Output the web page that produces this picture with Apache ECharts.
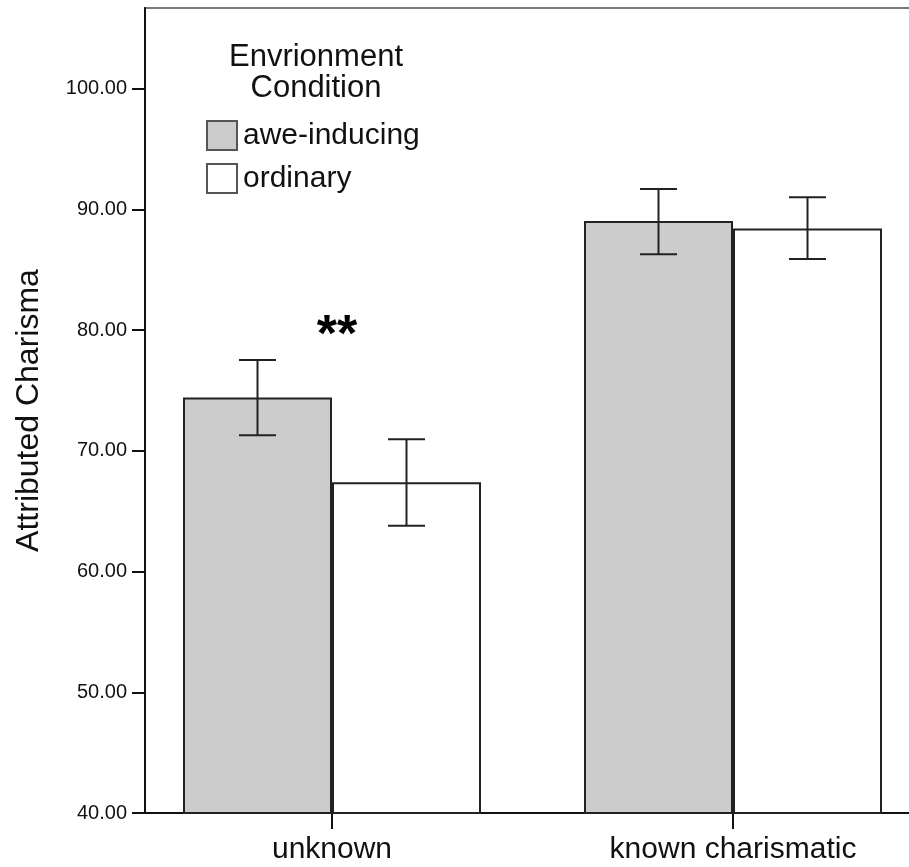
<!DOCTYPE html>
<html>
<head>
<meta charset="utf-8">
<script src="https://cdn.jsdelivr.net/npm/echarts@6/dist/echarts.min.js"></script>
<style>
html,body{margin:0;padding:0;background:#fff;}
#chart{width:909px;height:867px;}
</style>
</head>
<body>
<div id="chart"></div>
<script>
// ---- data ----
const categories = ['unknown', 'known charismatic'];
const seriesNames = ['awe-inducing', 'ordinary'];
const aweMeans = [74.42, 89.06];
const ordinaryMeans = [67.40, 88.42];
const aweErrLow = [71.30, 86.30];
const aweErrHigh = [77.54, 91.71];
const ordinaryErrLow = [63.81, 85.91];
const ordinaryErrHigh = [70.97, 91.02];
const yTicks = [40, 50, 60, 70, 80, 90, 100];
const legendTitle = 'Envrionment\nCondition';
const yTitle = 'Attributed Charisma';
const sigMarks = [{ category: 'unknown', value: 79.5, text: '**' }];

// ---- styling constants ----
const FONT = 'Liberation Sans, Arial, sans-serif';
const BAR_W = 149;
const CAP_W = 37;
const Y_MIN = 40, Y_MAX = 106.7;

function errData(lows, highs) {
  return categories.map((c, i) => [i, lows[i], highs[i]]);
}
function errRender(offset) {
  return function (params, api) {
    const idx = api.value(0);
    const lo = api.coord([idx, api.value(1)]);
    const hi = api.coord([idx, api.value(2)]);
    const x = lo[0] + offset;
    const st = { stroke: '#222', lineWidth: 2 };
    return {
      type: 'group',
      children: [
        { type: 'line', shape: { x1: x, y1: lo[1], x2: x, y2: hi[1] }, style: st },
        { type: 'line', shape: { x1: x - CAP_W / 2, y1: lo[1], x2: x + CAP_W / 2, y2: lo[1] }, style: st },
        { type: 'line', shape: { x1: x - CAP_W / 2, y1: hi[1], x2: x + CAP_W / 2, y2: hi[1] }, style: st }
      ]
    };
  };
}
// significance marker drawn at the category centre
function sigRender(params, api) {
  const p = api.coord([api.value(0), api.value(1)]);
  return {
    type: 'text',
    x: p[0] + 5, y: p[1],
    style: {
      text: sigMarks[params.dataIndex].text,
      fontFamily: FONT, fontSize: 52, fontWeight: 'bold', fill: '#000',
      align: 'center', verticalAlign: 'middle'
    }
  };
}

const chart = echarts.init(document.getElementById('chart'), null, { renderer: 'canvas' });
chart.setOption({
  animation: false,
  backgroundColor: '#fff',
  textStyle: { fontFamily: FONT },
  title: {
    text: legendTitle,
    left: 311,
    top: 37,
    textAlign: 'center',
    textStyle: { fontFamily: FONT, fontSize: 31, fontWeight: 'normal', color: '#111', lineHeight: 31, align: 'center' }
  },
  legend: {
    data: seriesNames,
    orient: 'vertical',
    left: 201,
    top: 115,
    itemWidth: 30,
    itemHeight: 29,
    itemGap: 12,
    icon: 'rect',
    textStyle: { fontFamily: FONT, fontSize: 30, color: '#111', padding: [0, 0, 0, 1] },
    itemStyle: { borderColor: '#555', borderWidth: 2 }
  },
  grid: [
    { left: 145, width: 800, top: 8, bottom: 54, show: true, borderColor: '#7a7a7a', borderWidth: 2, backgroundColor: 'transparent', outerBoundsMode: 'none', containLabel: false },
    { left: 131.5, width: 802, top: 8, bottom: 54, show: false, outerBoundsMode: 'none', containLabel: false }
  ],
  xAxis: [
    {
      gridIndex: 0, type: 'value', min: 0, max: 1,
      axisLine: { show: true, onZero: false, lineStyle: { color: '#111', width: 2 } },
      axisTick: { show: false }, axisLabel: { show: false }, splitLine: { show: false }
    },
    {
      gridIndex: 1, type: 'category', data: categories,
      axisLine: { show: false },
      axisTick: { show: true, alignWithLabel: true, length: 16, lineStyle: { color: '#111', width: 2 } },
      axisLabel: { fontFamily: FONT, fontSize: 30, color: '#111', margin: 22 },
      splitLine: { show: false }
    }
  ],
  yAxis: [
    {
      gridIndex: 0, type: 'value', min: Y_MIN, max: Y_MAX,
      axisLine: { show: true, lineStyle: { color: '#111', width: 2 } },
      axisTick: { show: true, length: 13, customValues: yTicks, lineStyle: { color: '#111', width: 2 } },
      axisLabel: { customValues: yTicks, fontFamily: FONT, fontSize: 20, color: '#111', margin: 18, formatter: v => v.toFixed(2) },
      splitLine: { show: false },
      name: yTitle, nameLocation: 'middle', nameRotate: 90, nameGap: 100,
      nameTextStyle: { fontFamily: FONT, fontSize: 32, color: '#111' }
    },
    { gridIndex: 1, type: 'value', min: Y_MIN, max: Y_MAX, show: false }
  ],
  series: [
    {
      name: seriesNames[0], type: 'bar', xAxisIndex: 1, yAxisIndex: 1,
      data: aweMeans, barWidth: BAR_W, barGap: '0%',
      itemStyle: { color: '#cccccc', borderColor: '#222', borderWidth: 2 }
    },
    {
      name: seriesNames[1], type: 'bar', xAxisIndex: 1, yAxisIndex: 1,
      data: ordinaryMeans, barWidth: BAR_W, barGap: '0%',
      itemStyle: { color: '#ffffff', borderColor: '#222', borderWidth: 2 }
    },
    {
      name: 'awe-err', type: 'custom', xAxisIndex: 1, yAxisIndex: 1, z: 5,
      data: errData(aweErrLow, aweErrHigh), encode: { x: 0, y: [1, 2] },
      renderItem: errRender(-BAR_W / 2)
    },
    {
      name: 'ordinary-err', type: 'custom', xAxisIndex: 1, yAxisIndex: 1, z: 5,
      data: errData(ordinaryErrLow, ordinaryErrHigh), encode: { x: 0, y: [1, 2] },
      renderItem: errRender(BAR_W / 2)
    },
    {
      name: 'significance', type: 'custom', xAxisIndex: 1, yAxisIndex: 1, z: 6,
      data: sigMarks.map(m => [categories.indexOf(m.category), m.value]),
      encode: { x: 0, y: 1 },
      renderItem: sigRender
    }
  ]
});
</script>
</body>
</html>
